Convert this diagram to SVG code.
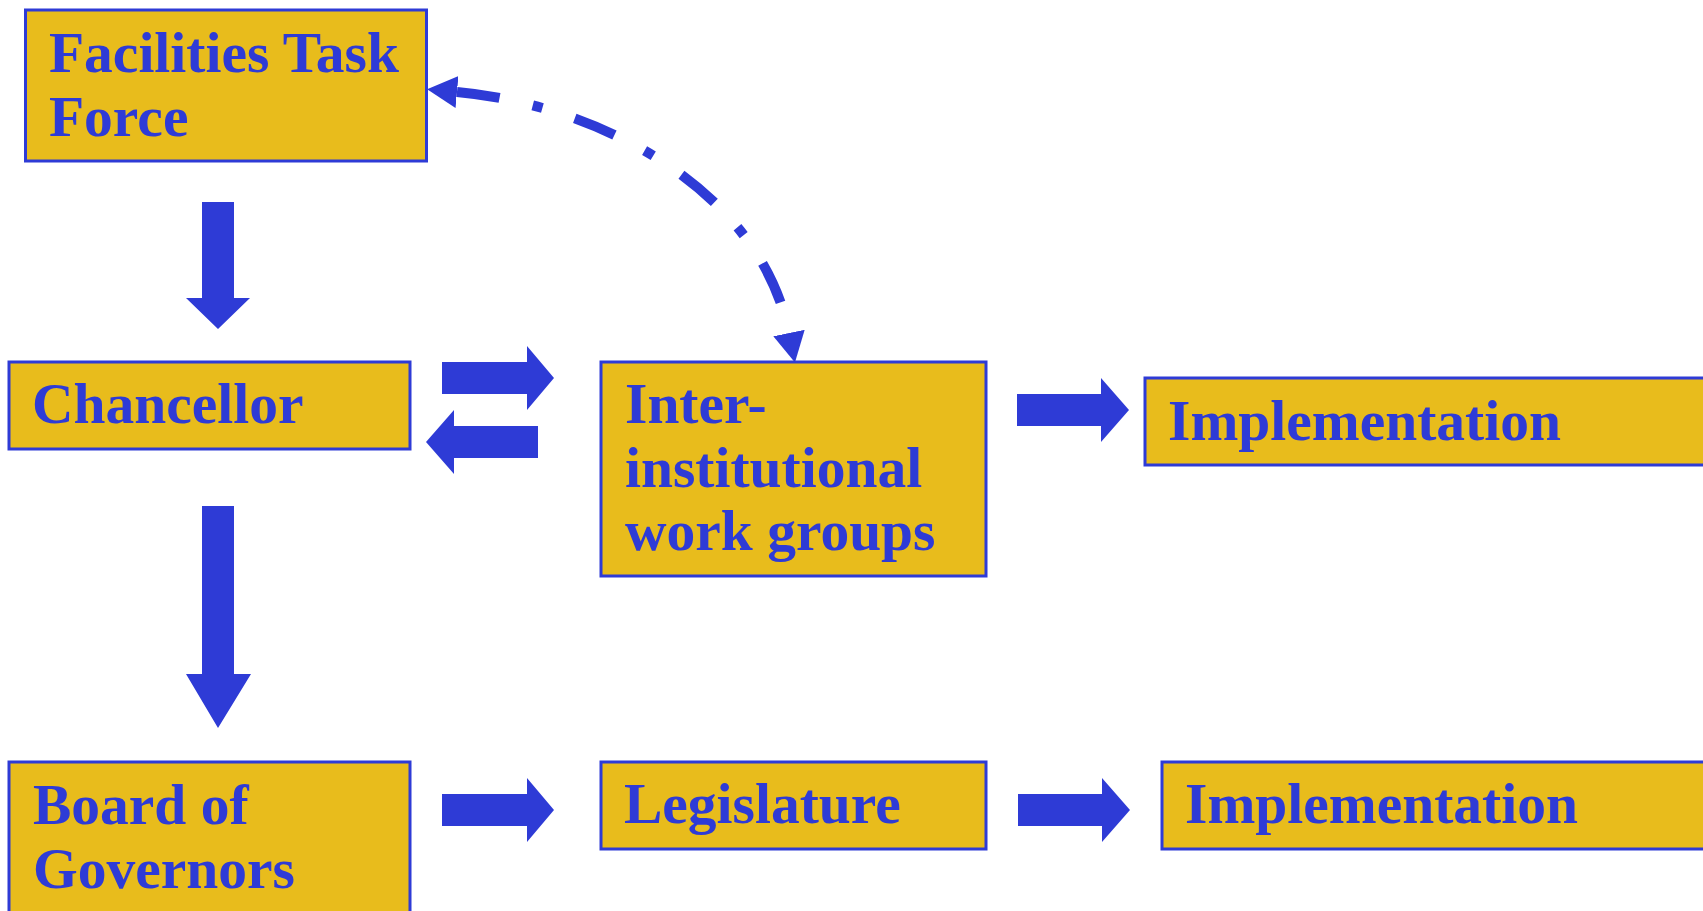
<svg xmlns="http://www.w3.org/2000/svg" width="1703" height="911" viewBox="0 0 1703 911">
<style>
.box{fill:#E8BC1C;stroke:#2E3BD6;stroke-width:3}
.lbl{font-family:"Liberation Serif","Times New Roman",serif;font-weight:bold;font-size:57.5px;fill:#2E3BD6}
.blk{fill:#2E3BD6}
.dash{fill:none;stroke:#2E3BD6;stroke-width:10;stroke-dasharray:43 34 10 34}
</style>
<defs>
<marker id="ah" viewBox="0 0 30 32" refX="0" refY="16" markerWidth="30" markerHeight="32" markerUnits="userSpaceOnUse" orient="auto-start-reverse">
<path d="M0,0 L30,16 L0,32 z" fill="#2E3BD6"/>
</marker>
</defs>
<rect width="1703" height="911" fill="#FFFFFF"/>
<g id="connectors">
<polygon class="blk" points="202,202 234,202 234,298 250,298 218,329 186,298 202,298"/>
<polygon class="blk" points="202,506 234,506 234,674 251,674 218,728 186,674 202,674"/>
<polygon class="blk" points="442,362 527,362 527,346 554,378 527,410 527,394 442,394"/>
<polygon class="blk" points="538,426 454,426 454,410 426,442 454,474 454,458 538,458"/>
<polygon class="blk" points="1017,394 1101,394 1101,378 1129,410 1101,442 1101,426 1017,426"/>
<polygon class="blk" points="442,794 527,794 527,778 554,810 527,842 527,826 442,826"/>
<polygon class="blk" points="1018,794 1102,794 1102,778 1130,810 1102,842 1102,826 1018,826"/>
<path class="dash" d="M457,92 C600,105 760,190 789,333" marker-start="url(#ah)" marker-end="url(#ah)"/>
</g>
<g id="facilities">
<rect class="box" x="25.5" y="10" width="401" height="151"/>
<text class="lbl" x="49" y="72">Facilities Task</text>
<text class="lbl" x="49" y="136">Force</text>
</g>
<g id="chancellor">
<rect class="box" x="9" y="362" width="401" height="87"/>
<text class="lbl" x="32" y="423">Chancellor</text>
</g>
<g id="workgroups">
<rect class="box" x="601" y="362" width="385" height="214"/>
<text class="lbl" x="625" y="423">Inter-</text>
<text class="lbl" x="625" y="487">institutional</text>
<text class="lbl" x="625" y="550">work groups</text>
</g>
<g id="implementation1">
<rect class="box" x="1145" y="378" width="570" height="87"/>
<text class="lbl" x="1168" y="440">Implementation</text>
</g>
<g id="board">
<rect class="box" x="9" y="762" width="401" height="170"/>
<text class="lbl" x="33" y="824">Board of</text>
<text class="lbl" x="33" y="888">Governors</text>
</g>
<g id="legislature">
<rect class="box" x="601" y="762" width="385" height="87"/>
<text class="lbl" x="624" y="823">Legislature</text>
</g>
<g id="implementation2">
<rect class="box" x="1162" y="762" width="560" height="87"/>
<text class="lbl" x="1185" y="823">Implementation</text>
</g>
</svg>
